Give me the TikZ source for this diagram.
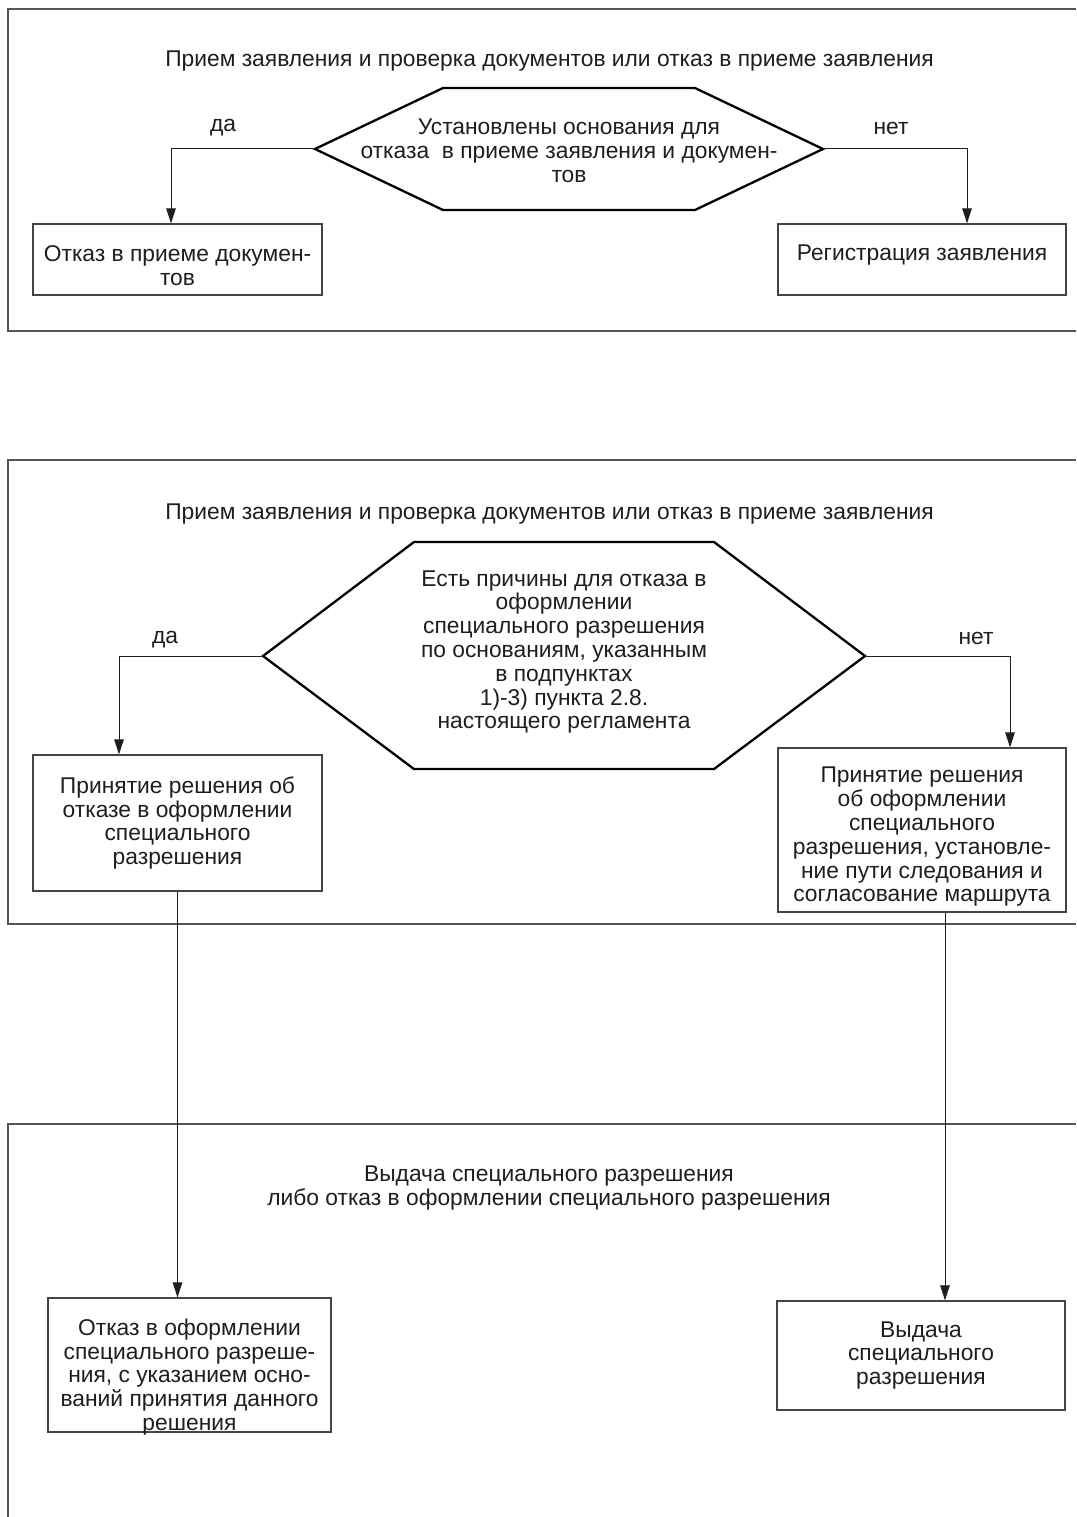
\documentclass[tikz,border=0pt]{standalone}
\usepackage{fontspec}
\setmainfont{Liberation Sans}
\usetikzlibrary{arrows.meta}
\definecolor{ink}{HTML}{1E1E1E}
\definecolor{frame}{HTML}{555555}
\tikzset{
  every node/.style={text=ink, font=\fontsize{22.8}{23.8}\selectfont, inner sep=0pt},
  framebox/.style={draw=frame, line width=1.3pt},
  stepbox/.style={draw=frame!80!black, line width=1.2pt, fill=none, align=center},
  hexline/.style={draw=black, line width=2.3pt, line join=miter},
  conn/.style={draw=ink, line width=1pt, -{Triangle[length=15pt,width=9.5pt]}},
  lbl/.style={align=center}
}
\begin{document}
\begin{tikzpicture}[x=1pt,y=-1pt]
\useasboundingbox (0,0) rectangle (1076,1517);
% ---------- frames ----------
\draw[framebox] (1076,9) -- (8,9) -- (8,331) -- (1076,331);
\draw[framebox] (1076,460) -- (8,460) -- (8,924) -- (1076,924);
\draw[framebox] (1076,1124) -- (8,1124) -- (8,1517);

% ---------- part 1 ----------
\node[lbl] (t1) at (549.5,61) {Прием заявления и проверка документов или отказ в приеме заявления};
\coordinate (h1l) at (315,149);
\coordinate (h1r) at (823,149);
\draw[hexline] (h1l) -- (443,88) -- (695,88) -- (h1r) -- (695,210) -- (443,210) -- cycle;
\node[lbl] (h1) at (569,151) {Установлены основания для\\отказа\ \ в приеме заявления и докумен-\\тов};
\node[lbl] (da1) at (223,128) {да};
\node[lbl] (net1) at (891,128) {нет};
\node[stepbox, minimum width=289pt, minimum height=71pt] (A) at (177.5,259.5) {};
\node[lbl] (At) at (177.5,266) {Отказ в приеме докумен-\\тов};
\node[stepbox, minimum width=288pt, minimum height=71pt] (B) at (922,259.5) {};
\node[lbl] (Bt) at (922,255) {Регистрация заявления};
\draw[conn] (h1l) -| ([xshift=-6.5pt]A.north);
\draw[conn] (h1r) -| ([xshift=45pt]B.north);

% ---------- part 2 ----------
\node[lbl] (t2) at (549.5,514) {Прием заявления и проверка документов или отказ в приеме заявления};
\coordinate (h2l) at (263,656);
\coordinate (h2r) at (865,656);
\draw[hexline] (h2l) -- (414,542) -- (714,542) -- (h2r) -- (714,769) -- (414,769) -- cycle;
\node[lbl] (h2) at (564,652) {Есть причины для отказа в\\оформлении\\специального разрешения\\по основаниям, указанным\\в подпунктах\\1)-3) пункта 2.8.\\настоящего регламента};
\node[lbl] (da2) at (165,640) {да};
\node[lbl] (net2) at (976,638) {нет};
\node[stepbox, minimum width=289pt, minimum height=136pt] (C) at (177.5,823) {Принятие решения об\\отказе в оформлении\\специального\\разрешения};
\node[stepbox, minimum width=288pt, minimum height=164pt] (D) at (922,830) {};
\node[lbl] (Dt) at (922,837) {Принятие решения\\об оформлении\\специального\\разрешения, установле-\\ние пути следования и\\согласование маршрута};
\draw[conn] (h2l) -| ([xshift=-58.5pt]C.north);
\draw[conn] (h2r) -| ([xshift=88pt]D.north);

% ---------- part 3 ----------
\node[lbl] (t3) at (549,1188) {Выдача специального разрешения\\либо отказ в оформлении специального разрешения};
\node[stepbox, minimum width=283pt, minimum height=134pt] (E) at (189.5,1365) {};
\node[lbl] (Et) at (189.5,1377) {Отказ в оформлении\\специального разреше-\\ния, с указанием осно-\\ваний принятия данного\\решения};
\node[stepbox, minimum width=288pt, minimum height=109pt] (F) at (921,1355.5) {Выдача\\специального\\разрешения};
\draw[conn] (C.south) -- (C.south |- E.north);
\draw[conn] ([xshift=23pt]D.south) -- ([xshift=23pt]D.south |- F.north);
\end{tikzpicture}
\end{document}
